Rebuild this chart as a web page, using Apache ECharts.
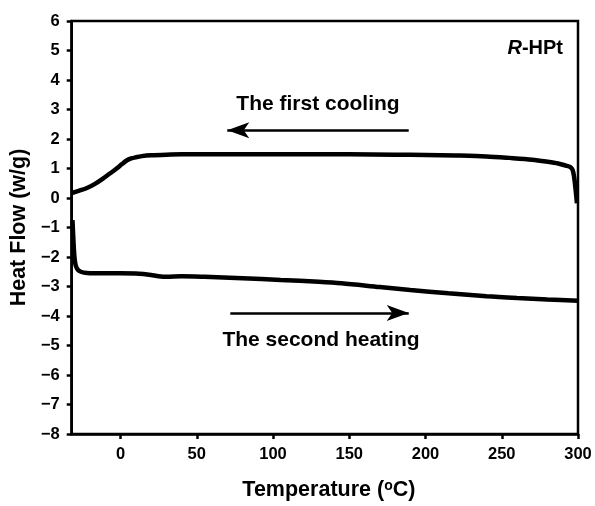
<!DOCTYPE html>
<html>
<head>
<meta charset="utf-8">
<script src="https://cdn.jsdelivr.net/npm/echarts@6/dist/echarts.min.js"></script>
<style>html,body{margin:0;padding:0;background:#fff}#c{width:595px;height:506px}</style>
</head>
<body>
<div id="c"></div>
<script>
// First cooling (temperature decreasing from 300 °C)
const coolTemp = [299.3, 298.5, 297.5, 296.5, 295, 292, 287, 280, 270, 255, 240, 220, 200, 180, 150, 120, 90, 60, 40, 30, 20, 14, 10, 7, 4, 1, -3, -7, -12, -17, -22, -27, -32];
const coolHeat = [-0.18, 0.25, 0.7, 0.95, 1.05, 1.1, 1.17, 1.23, 1.3, 1.36, 1.41, 1.44, 1.46, 1.47, 1.48, 1.48, 1.48, 1.48, 1.48, 1.47, 1.45, 1.42, 1.38, 1.34, 1.27, 1.15, 0.98, 0.83, 0.64, 0.47, 0.34, 0.25, 0.17];
// Second heating
const heatTemp = [-31.5, -31, -30.5, -30, -29.3, -28, -26, -22, -10, 0, 10, 15, 20, 25, 30, 40, 55, 80, 105, 130, 145, 170, 190, 215, 240, 260, 280, 300];
const heatHeat = [-0.75, -1.3, -1.8, -2.1, -2.3, -2.43, -2.5, -2.54, -2.55, -2.55, -2.56, -2.58, -2.61, -2.65, -2.67, -2.65, -2.67, -2.72, -2.78, -2.84, -2.89, -3.02, -3.12, -3.23, -3.33, -3.39, -3.44, -3.48];
// Tick labels
const xTicks = [0, 50, 100, 150, 200, 250, 300];
const yTicks = [-8, -7, -6, -5, -4, -3, -2, -1, 0, 1, 2, 3, 4, 5, 6];
// Arrow annotations [x1, y1, x2, y2] (data units)
const coolArrow = [189, 2.3, 70, 2.3];
const heatArrow = [72, -3.9, 189, -3.9];

const FONT = '"Liberation Sans", Arial, Helvetica, sans-serif';
const zip = (a, b) => a.map((v, i) => [v, b[i]]);

const chart = echarts.init(document.getElementById('c'), null, {renderer: 'canvas'});
const arrowLine = (a) => ({
  silent: true,
  symbol: ['none', 'arrow'],
  symbolSize: [12, 22],
  label: {show: false},
  lineStyle: {color: '#000', width: 2.5, type: 'solid'},
  data: [[{coord: [a[0], a[1]]}, {coord: [a[2], a[3]]}]],
  animation: false
});

chart.setOption({
  animation: false,
  backgroundColor: '#fff',
  grid: {left: 70, right: 17, top: 21, bottom: 72, show: true, borderColor: '#000', borderWidth: 2.5, backgroundColor: 'transparent'},
  xAxis: {
    type: 'value', min: -32, max: 300,
    name: 'Temperature ({sup|o}C)', nameLocation: 'middle', nameGap: 45,
    nameTextStyle: {fontFamily: FONT, fontWeight: 'bold', fontSize: 21.5, color: '#000', padding: [0, 0, 0, 8],
      rich: {sup: {fontFamily: FONT, fontWeight: 'bold', fontSize: 14, verticalAlign: 'top', padding: [0, 0, 8, 0], color: '#000'}}},
    axisLine: {show: true, onZero: false, lineStyle: {color: '#000', width: 2.5}},
    axisTick: {show: true, customValues: xTicks, length: 5, lineStyle: {color: '#000', width: 2.5}},
    axisLabel: {customValues: xTicks, margin: 12, fontFamily: FONT, fontWeight: 'bold', fontSize: 16.5, color: '#000'},
    splitLine: {show: false}
  },
  yAxis: {
    type: 'value', min: -8, max: 6, interval: 1,
    name: 'Heat Flow (w/g)', nameLocation: 'middle', nameGap: 37,
    nameTextStyle: {fontFamily: FONT, fontWeight: 'bold', fontSize: 21.5, color: '#000'},
    axisLine: {show: true, onZero: false, lineStyle: {color: '#000', width: 2.5}},
    axisTick: {show: true, customValues: yTicks, length: 5, lineStyle: {color: '#000', width: 2.5}},
    axisLabel: {customValues: yTicks, margin: 12, fontFamily: FONT, fontWeight: 'bold', fontSize: 16.5, color: '#000',
      formatter: v => String(v).replace('-', '\u2212')},
    splitLine: {show: false}
  },
  series: [
    {type: 'line', name: 'cooling', data: zip(coolTemp, coolHeat), showSymbol: false, smooth: 0.3,
     lineStyle: {color: '#000', width: 4.5}, markLine: arrowLine(coolArrow)},
    {type: 'line', name: 'heating', data: zip(heatTemp, heatHeat), showSymbol: false, smooth: 0.3,
     lineStyle: {color: '#000', width: 4.5}, markLine: arrowLine(heatArrow)}
  ],
  graphic: [
    {type: 'text', x: 318, y: 104, style: {text: 'The first cooling', font: 'bold 21px ' + FONT, fill: '#000', align: 'center', verticalAlign: 'middle'}},
    {type: 'text', x: 321, y: 340, style: {text: 'The second heating', font: 'bold 21px ' + FONT, fill: '#000', align: 'center', verticalAlign: 'middle'}},
    {type: 'text', x: 563, y: 48, style: {text: '{i|R}{b|-HPt}', fill: '#000', align: 'right', verticalAlign: 'middle',
      rich: {i: {font: 'italic bold 20px ' + FONT, fill: '#000'}, b: {font: 'bold 20px ' + FONT, fill: '#000'}}}}
  ]
});
</script>
</body>
</html>
